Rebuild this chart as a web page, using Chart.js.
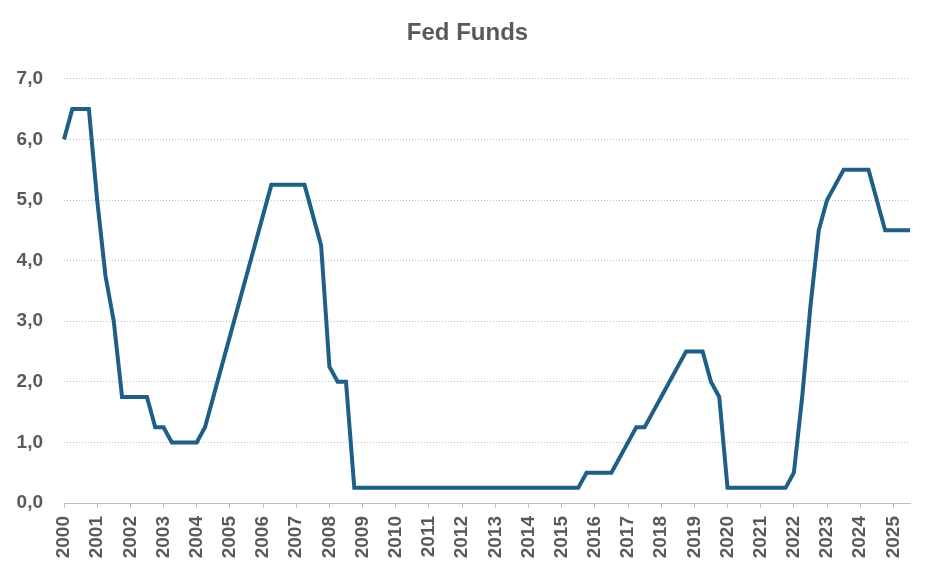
<!DOCTYPE html>
<html>
<head>
<meta charset="utf-8">
<script src="https://cdn.jsdelivr.net/npm/chart.js@4.4.1/dist/chart.umd.min.js"></script>
<style>
  html, body { margin: 0; padding: 0; background: #fff; }
  #wrap { width: 935px; height: 576px; }
</style>
</head>
<body>
<div id="wrap"><canvas id="fedChart"></canvas></div>
<script>
// Quartale 2000Q1 .. 2025Q3 (Zielsatz am Quartalsende)
const years = [];
for (let y = 2000; y <= 2025; y++) years.push(y);

const quarters = [];
years.forEach(y => {
    for (let q = 1; q <= 4; q++) {
        if (y === 2025 && q > 3) break;
        quarters.push(y + 'Q' + q);
    }
});

const fedFunds = [
    // 2000
    6.0, 6.5, 6.5, 6.5,
    // 2001
    5.0, 3.75, 3.0, 1.75,
    // 2002
    1.75, 1.75, 1.75, 1.25,
    // 2003
    1.25, 1.0, 1.0, 1.0,
    // 2004
    1.0, 1.25, 1.75, 2.25,
    // 2005
    2.75, 3.25, 3.75, 4.25,
    // 2006
    4.75, 5.25, 5.25, 5.25,
    // 2007
    5.25, 5.25, 4.75, 4.25,
    // 2008
    2.25, 2.0, 2.0, 0.25,
    // 2009
    0.25, 0.25, 0.25, 0.25,
    // 2010
    0.25, 0.25, 0.25, 0.25,
    // 2011
    0.25, 0.25, 0.25, 0.25,
    // 2012
    0.25, 0.25, 0.25, 0.25,
    // 2013
    0.25, 0.25, 0.25, 0.25,
    // 2014
    0.25, 0.25, 0.25, 0.25,
    // 2015
    0.25, 0.25, 0.25, 0.5,
    // 2016
    0.5, 0.5, 0.5, 0.75,
    // 2017
    1.0, 1.25, 1.25, 1.5,
    // 2018
    1.75, 2.0, 2.25, 2.5,
    // 2019
    2.5, 2.5, 2.0, 1.75,
    // 2020
    0.25, 0.25, 0.25, 0.25,
    // 2021
    0.25, 0.25, 0.25, 0.25,
    // 2022
    0.5, 1.75, 3.25, 4.5,
    // 2023
    5.0, 5.25, 5.5, 5.5,
    // 2024
    5.5, 5.5, 5.0, 4.5,
    // 2025
    4.5, 4.5, 4.5
];

const yTicks = [0, 1, 2, 3, 4, 5, 6, 7];

const textGrey = '#595959';
const gridGrey = '#bfbfbf';
const fontFam = 'Liberation Sans, Arial, sans-serif';

new Chart(document.getElementById('fedChart').getContext('2d'), {
    type: 'line',
    data: {
        labels: quarters,
        datasets: [{
            label: 'Fed Funds',
            data: fedFunds,
            borderColor: '#1d5f86',
            borderWidth: 4,
            pointRadius: 0,
            tension: 0,
            fill: false
        }]
    },
    options: {
        responsive: true,
        maintainAspectRatio: false,
        animation: false,
        layout: { padding: 0 },
        plugins: {
            legend: { display: false },
            tooltip: { enabled: false },
            title: {
                display: true,
                text: 'Fed Funds',
                color: textGrey,
                font: { family: fontFam, size: 24, weight: 'bold' },
                padding: { top: 19, bottom: 31 }
            }
        },
        scales: {
            x: {
                type: 'category',
                offset: false,
                border: { display: true, color: gridGrey, width: 1, dash: [1, 2] },
                grid: {
                    display: true,
                    drawOnChartArea: false,
                    drawTicks: true,
                    tickLength: 5,
                    color: gridGrey
                },
                ticks: {
                    autoSkip: false,
                    maxRotation: 90,
                    minRotation: 90,
                    padding: 8,
                    color: textGrey,
                    font: { family: fontFam, size: 19, weight: 'bold' },
                    callback: function (value, index) {
                        const lab = quarters[index];
                        return lab.endsWith('Q1') ? lab.slice(0, 4) : null;
                    }
                },
                afterFit: function (scale) { scale.height = 73; }
            },
            y: {
                min: 0,
                max: 7,
                afterBuildTicks: function (scale) {
                    scale.ticks = yTicks.map(v => ({ value: v }));
                },
                border: { display: false, dash: [1, 2] },
                grid: {
                    color: gridGrey,
                    lineWidth: 1,
                    drawTicks: false
                },
                ticks: {
                    padding: 21,
                    color: textGrey,
                    font: { family: fontFam, size: 19, weight: 'bold' },
                    callback: function (value) { return value.toFixed(1).replace('.', ','); }
                },
                afterFit: function (scale) { scale.width = 64; }
            },
            // leere Achse rechts, damit der Titel über der ganzen Fläche zentriert bleibt
            yRight: {
                position: 'right',
                min: 0,
                max: 7,
                border: { display: false },
                grid: { drawOnChartArea: false, drawTicks: false },
                ticks: { display: false },
                afterFit: function (scale) { scale.width = 25; }
            }
        }
    }
});
</script>
</body>
</html>
